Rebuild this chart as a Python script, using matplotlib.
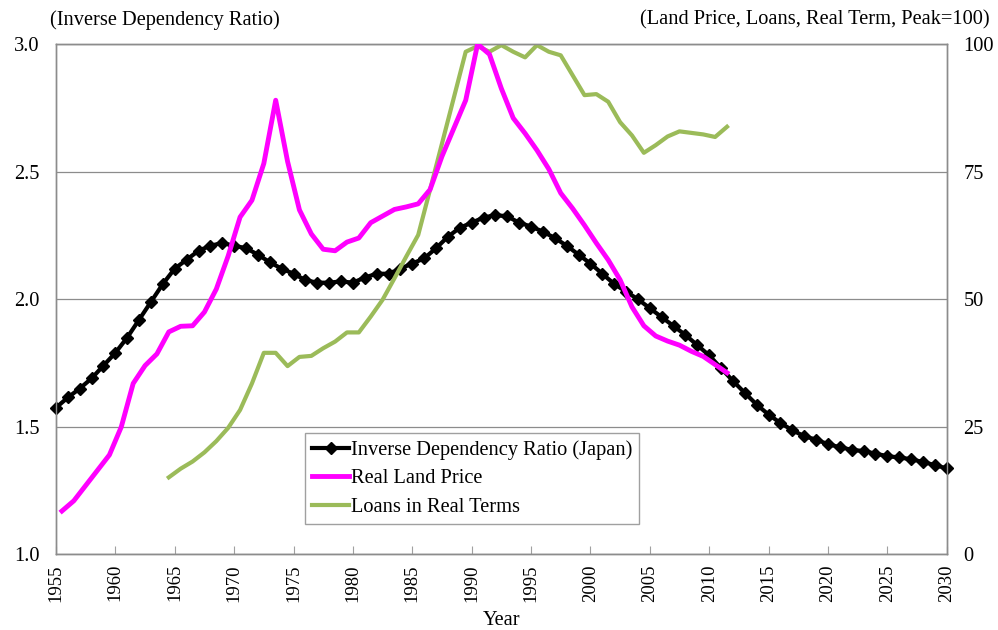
import matplotlib
matplotlib.use("Agg")
import matplotlib.pyplot as plt
import numpy as np

plt.rcParams['font.family'] = ['Liberation Serif', 'DejaVu Serif']

# inverse dependency ratio, Japan, 1955-2030 (left axis)
ratio_years = np.arange(1955, 2031)
ratio = [1.575, 1.615, 1.65, 1.69, 1.74, 1.79, 1.85, 1.92, 1.99, 2.06,
         2.12, 2.155, 2.19, 2.21, 2.22, 2.21, 2.20, 2.175, 2.145, 2.12,
         2.10, 2.075, 2.065, 2.065, 2.07, 2.065, 2.085, 2.10, 2.10, 2.12,
         2.14, 2.16, 2.20, 2.245, 2.28, 2.30, 2.32, 2.33, 2.325, 2.30,
         2.285, 2.265, 2.24, 2.21, 2.175, 2.14, 2.10, 2.06, 2.03, 2.00,
         1.965, 1.93, 1.895, 1.86, 1.82, 1.78, 1.73, 1.68, 1.633, 1.587,
         1.548, 1.515, 1.487, 1.463, 1.45, 1.432, 1.42, 1.41, 1.405, 1.395,
         1.385, 1.38, 1.373, 1.362, 1.35, 1.337]

# real land price, peak=100 (right axis)
land_years = np.arange(1955.5, 2012)
land = [8.5, 10.5, 13.5, 16.5, 19.5, 25.0, 33.5, 37.0, 39.3, 43.6,
        44.7, 44.8, 47.5, 52.0, 58.5, 66.1, 69.4, 76.6, 89.0, 77.0,
        67.5, 62.8, 59.8, 59.5, 61.2, 62.0, 65.0, 66.3, 67.6, 68.1,
        68.7, 71.5, 78.0, 83.5, 89.0, 100.0, 98.0, 91.3, 85.5, 82.5,
        79.2, 75.5, 70.8, 67.8, 64.5, 61.0, 57.7, 53.8, 48.5, 44.8,
        42.8, 41.8, 41.0, 39.8, 38.8, 37.2, 35.6]

# loans in real terms, peak=100 (right axis)
loan_years = np.arange(1964.5, 2012)
loans = [15.1, 16.8, 18.2, 20.0, 22.2, 24.8, 28.3, 33.5, 39.5, 39.5,
         36.9, 38.7, 38.9, 40.4, 41.7, 43.5, 43.5, 46.6, 49.9, 54.1,
         58.4, 62.6, 71.5, 80.5, 89.5, 98.5, 99.6, 98.5, 99.8, 98.5,
         97.4, 99.8, 98.5, 97.8, 93.9, 90.0, 90.2, 88.7, 84.7, 82.1,
         78.7, 80.2, 81.9, 82.9, 82.6, 82.3, 81.8, 83.8]

FS = 14.7

fig = plt.figure(figsize=(9.98, 6.30), dpi=100)
ax = fig.add_axes([0.0561, 0.120, 0.8925, 0.810])
ax2 = ax.twinx()

ax.set_xlim(1955, 2030)
ax.set_ylim(1.0, 3.0)
ax2.set_ylim(0, 100)

ax.set_yticks([1.0, 1.5, 2.0, 2.5, 3.0])
ax.set_yticklabels(['1.0', '1.5', '2.0', '2.5', '3.0'])
ax2.set_yticks([0, 25, 50, 75, 100])
ax.set_xticks(np.arange(1955, 2031, 5))

ax.grid(axis='y', color='#8c8c8c', lw=0.9)
ax.set_axisbelow(True)

l1, = ax.plot(ratio_years, ratio, color='black', lw=3, marker='D',
              markersize=6, label='Inverse Dependency Ratio (Japan)',
              zorder=3, clip_on=False)
l3, = ax2.plot(loan_years, loans, color='#9bbb59', lw=3,
               label='Loans in Real Terms', zorder=2)
l2, = ax2.plot(land_years, land, color='#ff00ff', lw=3.5,
               label='Real Land Price', zorder=3)

for a in (ax, ax2):
    for s in a.spines.values():
        s.set_color('#8c8c8c')
        s.set_linewidth(1.0)
ax.tick_params(axis='x', direction='in', length=6, color='#a0a0a0',
               labelsize=13.5, labelrotation=90, pad=7)
ax.tick_params(axis='y', length=0, labelsize=FS, pad=12)
ax2.tick_params(axis='y', length=0, labelsize=FS, pad=12)

ax.set_xlabel('Year', fontsize=FS, labelpad=7)

fig.text(0.050, 0.968, '(Inverse Dependency Ratio)', fontsize=FS,
         ha='left', va='center')
fig.text(0.992, 0.968, '(Land Price, Loans, Real Term, Peak=100)',
         fontsize=FS, ha='right', va='center')

leg = ax2.legend(handles=[l1, l2, l3], loc='upper left',
                 bbox_to_anchor=(0.3056, 0.3127), bbox_transform=fig.transFigure,
                 fontsize=FS, frameon=True, fancybox=False, framealpha=1,
                 edgecolor='#a0a0a0', handlelength=1.8, handletextpad=0.1,
                 labelspacing=0.45, borderpad=0.35, borderaxespad=0, numpoints=1)
leg.get_frame().set_linewidth(1.0)

fig.savefig('out.png', dpi=100)
